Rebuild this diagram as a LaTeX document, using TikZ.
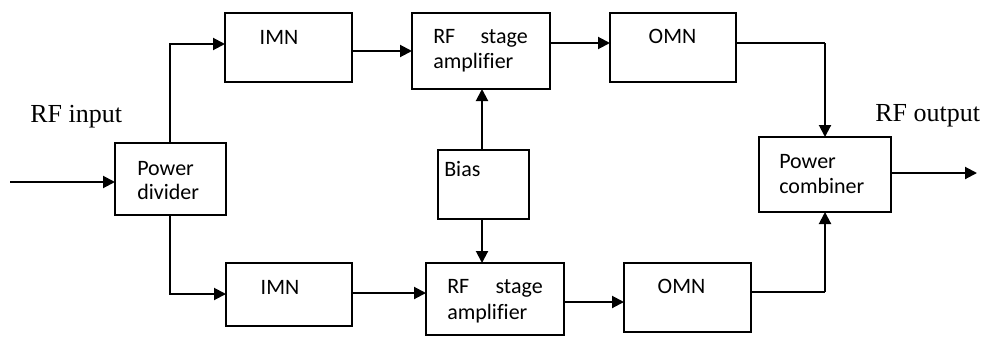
\documentclass[tikz,border=0pt]{standalone}
\usepackage{fontspec}
\setmainfont{Liberation Serif}
\newfontfamily\boxfont[Ligatures=NoCommon]{Carlito}
\usetikzlibrary{arrows.meta}
\begin{document}
\begin{tikzpicture}[x=0.75pt,y=-0.75pt,
  blk/.style={draw,line width=1pt,inner sep=0pt,outer sep=0pt,fill=white},
  lbl/.style={anchor=base west,inner sep=0pt,font=\boxfont\fontsize{16.5}{18}\selectfont},
  lblc/.style={anchor=base,inner sep=0pt,font=\boxfont\fontsize{16.5}{18}\selectfont},
  lblr/.style={anchor=base east,inner sep=0pt,font=\boxfont\fontsize{16.5}{18}\selectfont},
  big/.style={anchor=base west,inner sep=0pt,font=\fontsize{19.5}{22}\selectfont},
  conn/.style={line width=1.5pt,-{Triangle[length=9pt,width=9pt]}}]
\useasboundingbox (0,0) rectangle (984,336);
% boxes
\node[blk,minimum width=111*0.75pt,minimum height=72*0.75pt] (div) at (170.5,179) {};
\node[blk,minimum width=127*0.75pt,minimum height=69*0.75pt] (imn1) at (288.5,47.5) {};
\node[blk,minimum width=138*0.75pt,minimum height=76*0.75pt] (rf1) at (481,51) {};
\node[blk,minimum width=126*0.75pt,minimum height=69*0.75pt] (omn1) at (673,47.5) {};
\node[blk,minimum width=91*0.75pt,minimum height=69*0.75pt] (bias) at (483.5,184.5) {};
\node[blk,minimum width=126*0.75pt,minimum height=63*0.75pt] (imn2) at (289,294.5) {};
\node[blk,minimum width=138*0.75pt,minimum height=72*0.75pt] (rf2) at (495,299) {};
\node[blk,minimum width=127*0.75pt,minimum height=69*0.75pt] (omn2) at (687.5,297.5) {};
\node[blk,minimum width=132*0.75pt,minimum height=75*0.75pt] (comb) at (825,174.5) {};
% texts
\node[lbl] (tdiv1) at (137,175) {Power};
\node[lbl] (tdiv2) at (137,199) {divider};
\node[lblc] (timn1) at (279,44) {IMN};
\node[lblc] (timn2) at (280,294) {IMN};
\node[lbl] (trf1a) at (433,43) {RF};
\node[lblr] (trf1b) at (528,43) {stage};
\node[lbl] (trf1c) at (433,68) {amplifier};
\node[lbl] (trf2a) at (447,293) {RF};
\node[lblr] (trf2b) at (543,293) {stage};
\node[lbl] (trf2c) at (447,319) {amplifier};
\node[lblc] (tomn1) at (672.5,43) {OMN};
\node[lblc] (tomn2) at (681.5,293) {OMN};
\node[lbl] (tbias) at (444,176) {Bias};
\node[lbl] (tcomb1) at (779,168) {Power};
\node[lbl] (tcomb2) at (779,193) {combiner};
\node[big] (tin) at (30,122) {RF input};
\node[big] (tout) at (875,121) {RF output};
% coordinates
\coordinate (in) at (10,182);
\coordinate (out) at (977,173);
\coordinate (dtop) at (170,143);
\coordinate (dbot) at (170,215);
\coordinate (c1) at (170,44);
\coordinate (c2) at (170,294);
\coordinate (m1) at (825,43);
\coordinate (m2) at (825,292);
% connectors
\draw[conn] (in) -- (in -| div.west);
\draw[conn] (dtop) -- (c1) -- (c1 -| imn1.west);
\draw[conn] (dbot) -- (c2) -- (c2 -| imn2.west);
\draw[conn] (imn1.east |- 0,51) -- (rf1.west |- 0,51);
\draw[conn] (imn2.east |- 0,293) -- (rf2.west |- 0,293);
\draw[conn] (rf1.east |- 0,43) -- (omn1.west |- 0,43);
\draw[conn] (rf2.east |- 0,302) -- (omn2.west |- 0,302);
\draw[line width=1.5pt] (omn1.east |- m1) -- (m1);
\draw[conn] (m1) -- (comb.north);
\draw[line width=1.5pt] (omn2.east |- m2) -- (m2);
\draw[conn] (m2) -- (comb.south);
\draw[conn] (comb.east |- out) -- (out);
\draw[conn] (bias.north -| 482,0) -- (rf1.south -| 482,0);
\draw[conn] (bias.south -| 482,0) -- (rf2.north -| 482,0);
\end{tikzpicture}
\end{document}
